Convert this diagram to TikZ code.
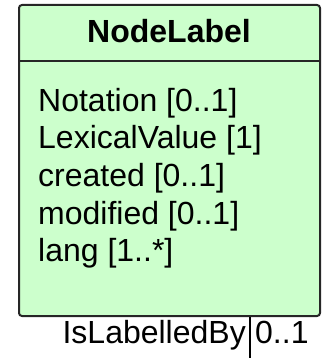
\documentclass[tikz,border=0pt]{standalone}
\usepackage{fontspec}
\setmainfont{Liberation Sans}
\begin{document}
\begin{tikzpicture}[x=1pt,y=-1pt,
  classbox/.style={draw=black!85, line width=2pt, fill=green!20!white, fill=clsfill, rounded corners=3pt, inner sep=0pt},
  attr/.style={anchor=base west, inner sep=0pt, font=\fontsize{32}{37}\selectfont},
  lbl/.style={inner sep=0pt, font=\fontsize{32}{37}\selectfont},
  conn/.style={draw=black, line width=1.5pt}]
\definecolor{clsfill}{HTML}{CCFFCC}
\useasboundingbox (0,0) rectangle (324,358);
\node[classbox, minimum width=301pt, minimum height=311pt] (cls) at (169.5,160.5) {};
\draw[black!85, line width=2pt] (cls.west |- 0,61) coordinate (dl) -- (cls.east |- 0,61) coordinate (dr);
\node[lbl, anchor=base, font=\fontsize{32}{37}\selectfont\bfseries] (title) at (169,43) {NodeLabel};
\node[attr] (a1) at (38,112) {Notation [0..1]};
\node[attr] (a2) at (38,149) {LexicalValue [1]};
\node[attr] (a3) at (38,186.5) {created [0..1]};
\node[attr] (a4) at (38,224) {modified [0..1]};
\node[attr] (a5) at (38,261.5) {lang [1..*]};
\coordinate (end) at (250,358);
\draw[conn] (cls.south -| end) -- (end);
\node[lbl, anchor=base east] (role) at (246,343) {IsLabelledBy};
\node[lbl, anchor=base west] (mult) at (255,343) {0..1};
\end{tikzpicture}
\end{document}
